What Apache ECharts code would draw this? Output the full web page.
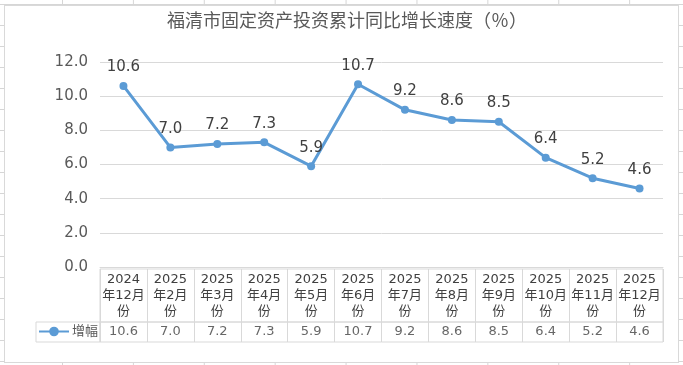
<!DOCTYPE html>
<html>
<head>
<meta charset="utf-8">
<script src="https://cdn.jsdelivr.net/npm/echarts@6/dist/echarts.min.js"></script>
<style>
html,body{margin:0;padding:0;width:683px;height:365px;overflow:hidden;}
body{
  background-color:#fff;
  background-image:
    linear-gradient(to right,#d6d6d6 1px,transparent 1px),
    linear-gradient(to bottom,#d6d6d6 1px,transparent 1px);
  background-size:70.9px 100%,100% 21px;
  background-position:62px 0,0 4px;
}
#frame{position:absolute;left:4px;top:5px;width:675px;height:358px;box-sizing:border-box;background:#fff;border:1px solid #d9d9d9;}
#chart{position:absolute;left:0;top:0;width:683px;height:365px;}
</style>
</head>
<body>
<div id="frame"></div>
<div id="chart"></div>
<script>
var titleText = '福清市固定资产投资累计同比增长速度（％）';
var seriesName = '增幅';
var categories = ['2024年12月份','2025年2月份','2025年3月份','2025年4月份','2025年5月份','2025年6月份','2025年7月份','2025年8月份','2025年9月份','2025年10月份','2025年11月份','2025年12月份'];
var values = [10.6, 7.0, 7.2, 7.3, 5.9, 10.7, 9.2, 8.6, 8.5, 6.4, 5.2, 4.6];
var yTicks = {min: 0, max: 12, interval: 2};

var LINE = '#5B9BD5';
var GRIDC = '#D9D9D9';
var TXT = '#595959';
var TXT2 = '#404040';
var FONT = "'DejaVu Sans','Noto Sans CJK SC',sans-serif";

function wrapCat(s){
  var m = s.match(/^(\d{4})(年\d+月)(份)$/);
  return m ? m[1] + '\n' + m[2] + '\n' + m[3] : s;
}

var chart = echarts.init(document.getElementById('chart'), null, {renderer:'canvas'});
chart.setOption({
  backgroundColor: 'transparent',
  animation: false,
  title: {
    text: titleText,
    left: 347, top: 11, textAlign: 'center', padding: 0,
    textStyle: {fontFamily: "'Noto Sans CJK SC',sans-serif", fontSize: 18, fontWeight: 'normal', color: TXT}
  },
  legend: {
    left: 38, top: 325, padding: 0, itemWidth: 30, itemHeight: 12, itemGap: 4,
    textStyle: {fontFamily: FONT, fontSize: 13, color: TXT, padding: [0,0,0,-2]},
    data: [seriesName]
  },
  grid: [
    {left: 100, right: 20, top: 62, bottom: 98, containLabel: false},
    {left: 100, right: 20, top: 269, height: 53, show: true, borderColor: GRIDC, borderWidth: 1, backgroundColor: 'transparent'},
    {left: 100, right: 20, top: 322, height: 20, show: true, borderColor: GRIDC, borderWidth: 1, backgroundColor: 'transparent'},
    {left: 36, width: 64, top: 322, height: 20, show: true, borderColor: GRIDC, borderWidth: 1, backgroundColor: 'transparent'}
  ],
  xAxis: [
    {gridIndex: 0, type: 'category', data: categories, boundaryGap: true,
     axisLine: {show: true, lineStyle: {color: GRIDC, width: 1}},
     axisTick: {show: false},
     axisLabel: {show: true, interval: 0, margin: 5, formatter: wrapCat,
       fontFamily: FONT, fontSize: 13, lineHeight: 16, color: TXT2, align: 'center'},
     splitLine: {show: false}},
    {gridIndex: 1, type: 'category', data: categories, boundaryGap: true,
     axisLine: {show: false}, axisTick: {show: false}, axisLabel: {show: false},
     splitLine: {show: true, interval: 0, lineStyle: {color: GRIDC, width: 1}}},
    {gridIndex: 2, type: 'category', data: categories, boundaryGap: true,
     axisLine: {show: false}, axisTick: {show: false}, axisLabel: {show: false},
     splitLine: {show: true, interval: 0, lineStyle: {color: GRIDC, width: 1}}},
    {gridIndex: 3, type: 'category', data: [''], show: false}
  ],
  yAxis: [
    {gridIndex: 0, type: 'value', min: yTicks.min, max: yTicks.max, interval: yTicks.interval,
     axisLine: {show: false}, axisTick: {show: false},
     axisLabel: {margin: 12, fontFamily: FONT, fontSize: 15, color: TXT,
       formatter: function(v){ return v.toFixed(1); }},
     splitLine: {show: true, lineStyle: {color: GRIDC, width: 1}}},
    {gridIndex: 1, type: 'value', min: 0, max: 1, show: false, splitLine: {show: false}},
    {gridIndex: 2, type: 'value', min: 0, max: 1, show: false, splitLine: {show: false}},
    {gridIndex: 3, type: 'value', min: 0, max: 1, show: false, splitLine: {show: false}}
  ],
  series: [
    {
      name: seriesName, type: 'line', xAxisIndex: 0, yAxisIndex: 0,
      data: values,
      symbol: 'circle', symbolSize: 8, showSymbol: true,
      lineStyle: {color: LINE, width: 3},
      itemStyle: {color: LINE},
      label: {show: true, position: 'top', distance: 7, fontFamily: FONT, fontSize: 15, color: '#404040',
        formatter: function(p){ return p.value.toFixed(1); }}
    },
    {
      name: 'table', type: 'scatter', xAxisIndex: 2, yAxisIndex: 2,
      symbolSize: 0, silent: true,
      data: values.map(function(v, i){ return [categories[i], 0.5, v]; }),
      label: {show: true, position: 'inside', fontFamily: FONT, fontSize: 13, color: TXT2,
        formatter: function(p){ return p.value[2].toFixed(1); }}
    }
  ]
});
</script>
</body>
</html>
